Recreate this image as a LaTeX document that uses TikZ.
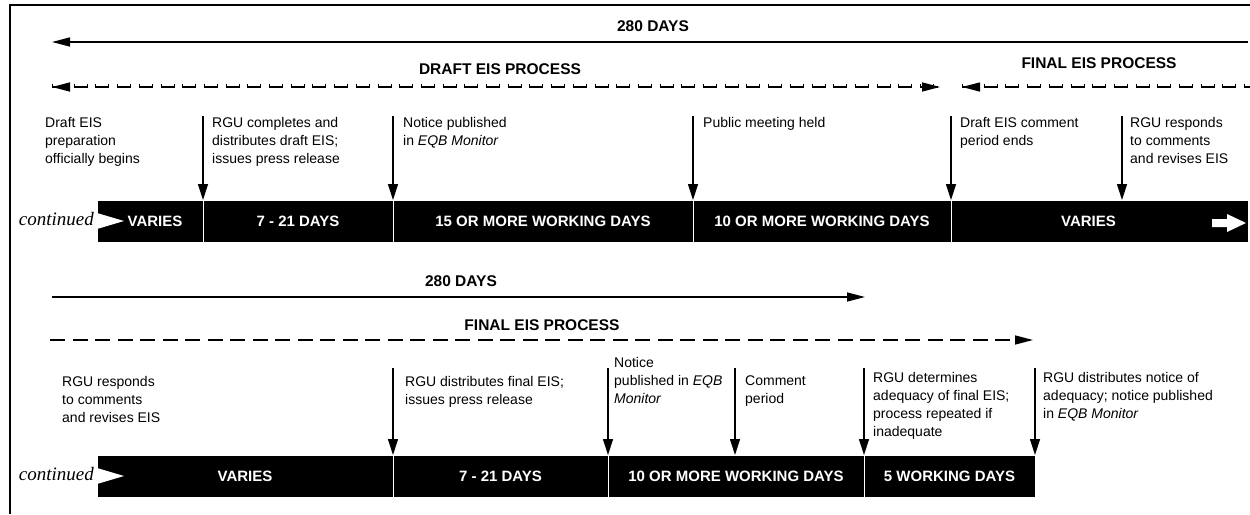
\documentclass[tikz,border=0pt]{standalone}
\usepackage{fontspec}
\setmainfont{Liberation Sans}
\newfontfamily\contfont{Liberation Serif}
\usetikzlibrary{arrows.meta}
\begin{document}
\begin{tikzpicture}[x=1pt,y=-1pt,
  >={Triangle[length=18pt,width=9pt]},
  head/.style={font=\fontsize{15.5}{18}\selectfont\bfseries, inner sep=0},
  lbl/.style={font=\fontsize{14}{18}\selectfont, align=left, anchor=north west, inner sep=0},
  seg/.style={fill=black, draw=white, line width=1pt, text=white,
    font=\fontsize{15}{18}\selectfont\bfseries, minimum height=42pt, inner sep=0, outer sep=0},
  vline/.style={line width=1.2pt, -{Triangle[length=16pt,width=10pt]}},
  span/.style={line width=1.4pt},
  dashA/.style={line width=1.3pt, dash pattern=on 14pt off 7.7pt},
  tickA/.style={line width=2.6pt, dash pattern=on 1pt off 12pt on 1pt off 7.7pt},
  dashB/.style={span, dash pattern=on 15pt off 7.5pt},
  cont/.style={font=\contfont\itshape\fontsize{19}{21}\selectfont, anchor=base east, inner sep=0},
]
\useasboundingbox (0,0) rectangle (1250,514);
% frame
\draw[line width=2pt] (10,514) -- (10,5) -- (1250,5);

% ---------- top row ----------
\node[head] (d280) at (653,26) {280 DAYS};
\coordinate (d280l) at (52,42);
\coordinate (d280r) at (1248,42);
\draw[span, <-] (d280l) -- (d280r);

\node[head] (draft) at (500,69) {DRAFT EIS PROCESS};
\coordinate (dl) at (52,87);
\coordinate (dr) at (940,87);
\draw[dashA] (dl) -- (dr);
\draw[tickA] ([yshift=1.3pt]dl) -- ([yshift=1.3pt]dr);
\draw[span, <-] (dl) -- ([xshift=2pt]dl);
\draw[span, ->] ([xshift=-2pt]dr) -- (dr);

\node[head] (final1) at (1099,63) {FINAL EIS PROCESS};
\coordinate (fl) at (962,87);
\coordinate (fr) at (1250,87);
\draw[dashA] (fl) -- (fr);
\draw[tickA] ([yshift=1.3pt]fl) -- ([yshift=1.3pt]fr);
\draw[span, <-] (fl) -- ([xshift=2pt]fl);

\node[lbl] (L1) at (45,117) {Draft EIS\\preparation\\officially begins};
\node[lbl] (L2) at (212,117) {RGU completes and\\distributes draft EIS;\\issues press release};
\node[lbl] (L3) at (403,117) {Notice published\\in \textit{EQB Monitor}};
\node[lbl] (L4) at (703,117) {Public meeting held};
\node[lbl] (L5) at (960,117) {Draft EIS comment\\period ends};
\node[lbl] (L6) at (1130,117) {RGU responds\\to comments\\and revises EIS};

\node[seg, minimum width=106pt] (t1) at (150,221) {\hspace*{10pt}VARIES};
\node[seg, minimum width=190pt] (t2) at (298,221) {7 - 21 DAYS};
\node[seg, minimum width=300pt] (t3) at (543,221) {15 OR MORE WORKING DAYS};
\node[seg, minimum width=258pt] (t4) at (822,221) {10 OR MORE WORKING DAYS};
\node[seg, minimum width=297pt] (t5) at (1099.5,221) {VARIES\hspace*{22pt}};

\fill[white] (97,213) -- (124,221) -- (97,229) -- cycle;
\fill[white] (1212,219) -- (1227,219) -- (1227,214) -- (1246,223) -- (1227,232) -- (1227,227) -- (1212,227) -- cycle;
\node[cont] (c1) at (94,225) {continued};

\coordinate (a1) at (203,116);
\coordinate (a2) at (393,116);
\coordinate (a3) at (693,116);
\coordinate (a4) at (951,116);
\coordinate (a5) at (1122,116);
\draw[vline] (a1) -- (t2.north west);
\draw[vline] (a2) -- (t3.north west);
\draw[vline] (a3) -- (t4.north west);
\draw[vline] (a4) -- (t5.north west);
\draw[vline] (a5) -- (a5 |- t5.north);

% ---------- bottom row ----------
\node[head] (s280) at (461,281) {280 DAYS};
\coordinate (s280l) at (52,297);
\coordinate (s280r) at (865,297);
\draw[span, ->] (s280l) -- (s280r);

\node[head] (final2) at (542,325) {FINAL EIS PROCESS};
\coordinate (sfl) at (50,340);
\coordinate (sfr) at (1033,340);
\draw[dashB, ->] (sfl) -- (sfr);

\node[lbl] (B1) at (62,376) {RGU responds\\to comments\\and revises EIS};
\node[lbl] (B2) at (405,376) {RGU distributes final EIS;\\issues press release};
\node[lbl] (B3) at (614,357) {Notice\\published in \textit{EQB}\\\textit{Monitor}};
\node[lbl] (B4) at (745,376) {Comment\\period};
\node[lbl] (B5) at (873,372) {RGU determines\\adequacy of final EIS;\\process repeated if\\inadequate};
\node[lbl] (B6) at (1043,372) {RGU distributes notice of\\adequacy; notice published\\in \textit{EQB Monitor}};

\node[seg, minimum width=296pt] (b1) at (245,476) {VARIES};
\node[seg, minimum width=215pt] (b2) at (500.5,476) {7 - 21 DAYS};
\node[seg, minimum width=256pt] (b3) at (736,476) {10 OR MORE WORKING DAYS};
\node[seg, minimum width=171pt] (b4) at (949.5,476) {5 WORKING DAYS};

\fill[white] (97,468) -- (124,476) -- (97,484) -- cycle;
\node[cont] (c2) at (94,480) {continued};

\coordinate (e1) at (393,368);
\coordinate (e2) at (608,368);
\coordinate (e3) at (735,368);
\coordinate (e4) at (864,368);
\coordinate (e5) at (1035,368);
\draw[vline] (e1) -- (b2.north west);
\draw[vline] (e2) -- (b3.north west);
\draw[vline] (e3) -- (e3 |- b3.north);
\draw[vline] (e4) -- (b4.north west);
\draw[vline] (e5) -- (b4.north east);
\end{tikzpicture}
\end{document}
